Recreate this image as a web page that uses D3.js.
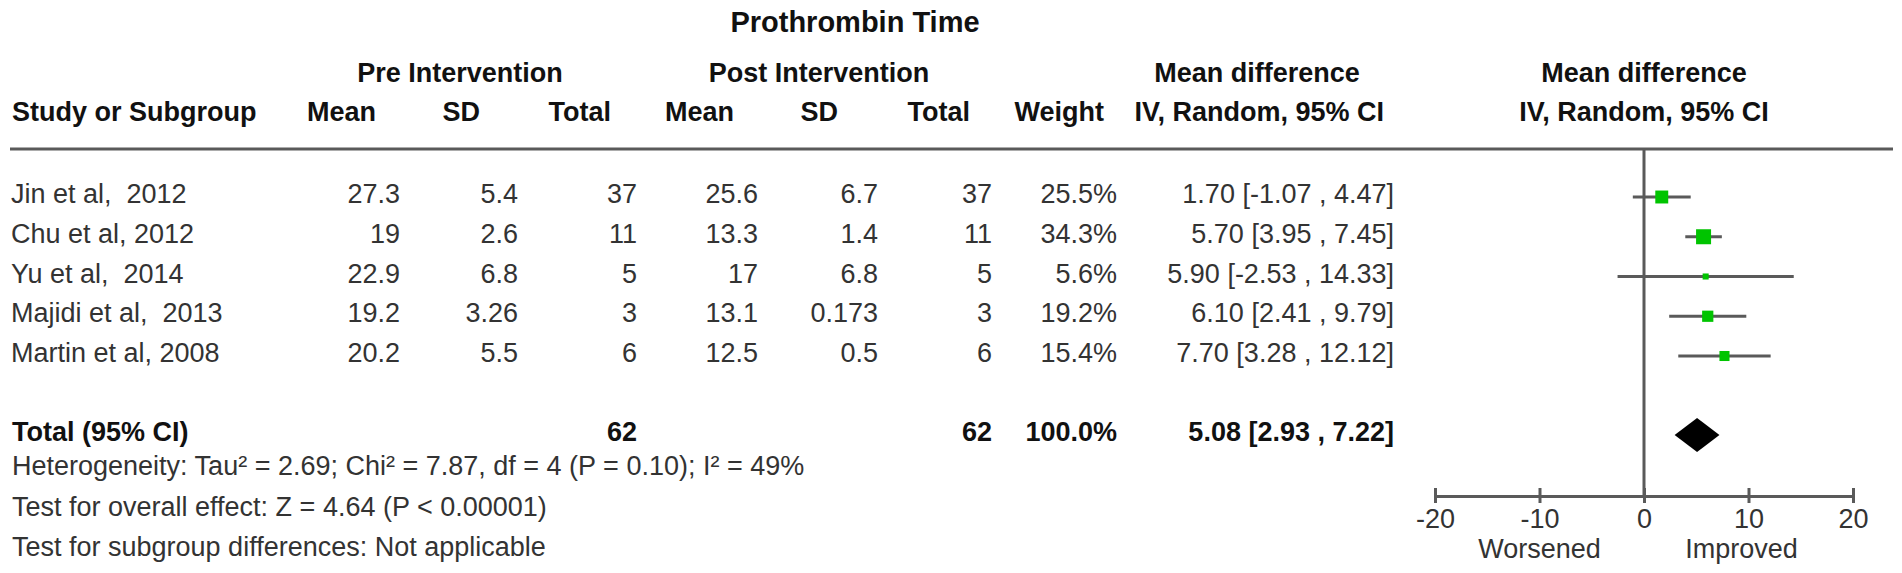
<!DOCTYPE html>
<html>
<head>
<meta charset="utf-8">
<script src="https://cdn.jsdelivr.net/npm/d3@7"></script>
<style>
  body { margin: 0; background: #fff; }
  svg { display: block; }
  text { font-family: "Liberation Sans", Arial, sans-serif; }
</style>
</head>
<body>
<div id="chart"></div>
<script>
const width = 1902, height = 573;

// table data
const studies = ["Jin et al,  2012", "Chu et al, 2012", "Yu et al,  2014", "Majidi et al,  2013", "Martin et al, 2008"]
const preMean = [27.3, 19, 22.9, 19.2, 20.2]
const preSD = [5.4, 2.6, 6.8, 3.26, 5.5]
const preN = [37, 11, 5, 3, 6]
const postMean = [25.6, 13.3, 17, 13.1, 12.5]
const postSD = [6.7, 1.4, 6.8, 0.173, 0.5]
const postN = [37, 11, 5, 3, 6]
const weight = [25.5, 34.3, 5.6, 19.2, 15.4]
const md = [1.70, 5.70, 5.90, 6.10, 7.70]
const ciLow = [-1.07, 3.95, -2.53, 2.41, 3.28]
const ciHigh = [4.47, 7.45, 14.33, 9.79, 12.12]

const totalPreN = 62, totalPostN = 62, totalWeight = 100.0
const totalMd = 5.08, totalLow = 2.93, totalHigh = 7.22

const xTicks = [-20, -10, 0, 10, 20]
const footer = [
  "Heterogeneity: Tau\u00B2 = 2.69; Chi\u00B2 = 7.87, df = 4 (P = 0.10); I\u00B2 = 49%",
  "Test for overall effect: Z = 4.64 (P < 0.00001)",
  "Test for subgroup differences: Not applicable"
]

const fs = 27
const textCol = "#333", boldCol = "#111", lineCol = "#5a5a5a"

const svg = d3.select("#chart")
  .append("svg")
    .attr("width", width)
    .attr("height", height)

// forest scales
const x = d3.scaleLinear().domain([-20, 20]).range([1435, 1853])
const y = d3.scaleLinear().domain([0, studies.length - 1]).range([197, 356])
const size = d3.scaleSqrt().domain([0, 34.3]).range([0, 15])
const totalY = 435, axisY = 496

// column layout: header right edge, value right edge
const cols = [
  {head: "Mean", hx: 376, vx: 400, vals: preMean},
  {head: "SD", hx: 480, vx: 518, vals: preSD},
  {head: "Total", hx: 611, vx: 637, vals: preN},
  {head: "Mean", hx: 734, vx: 758, vals: postMean},
  {head: "SD", hx: 838, vx: 878, vals: postSD},
  {head: "Total", hx: 970, vx: 992, vals: postN},
  {head: "Weight", hx: 1104, vx: 1117, vals: weight.map(w => w.toFixed(1) + "%")},
  {head: "IV, Random, 95% CI", hx: 1384, vx: 1394,
    vals: md.map((m, i) => `${m.toFixed(2)} [${ciLow[i].toFixed(2)} , ${ciHigh[i].toFixed(2)}]`)}
]

// title + group headers
svg.append("text")
  .attr("x", 855).attr("y", 32)
  .attr("text-anchor", "middle")
  .attr("font-size", 29).attr("font-weight", "bold").attr("fill", boldCol)
  .text("Prothrombin Time")

const groups = [
  {t: "Pre Intervention", x: 460},
  {t: "Post Intervention", x: 819},
  {t: "Mean difference", x: 1257},
  {t: "Mean difference", x: x(0)}
]
svg.selectAll("text.group")
  .data(groups)
  .enter()
  .append("text")
    .attr("class", "group")
    .attr("x", d => d.x).attr("y", 82)
    .attr("text-anchor", "middle")
    .attr("font-size", fs).attr("font-weight", "bold").attr("fill", boldCol)
    .text(d => d.t)

// column headers
svg.append("text")
  .attr("x", 12).attr("y", 121)
  .attr("font-size", fs).attr("font-weight", "bold").attr("fill", boldCol)
  .text("Study or Subgroup")

svg.selectAll("text.colhead")
  .data(cols)
  .enter()
  .append("text")
    .attr("class", "colhead")
    .attr("x", d => d.hx).attr("y", 121)
    .attr("text-anchor", "end")
    .attr("font-size", fs).attr("font-weight", "bold").attr("fill", boldCol)
    .text(d => d.head)

svg.append("text")
  .attr("x", x(0)).attr("y", 121)
  .attr("text-anchor", "middle")
  .attr("font-size", fs).attr("font-weight", "bold").attr("fill", boldCol)
  .text("IV, Random, 95% CI")

// separator
svg.append("line")
  .attr("x1", 10).attr("x2", 1893)
  .attr("y1", 149).attr("y2", 149)
  .attr("stroke", lineCol).attr("stroke-width", 3)

// study rows
svg.selectAll("text.study")
  .data(studies)
  .enter()
  .append("text")
    .attr("class", "study")
    .attr("x", 11).attr("y", (d, i) => y(i) + 6)
    .attr("font-size", fs).attr("fill", textCol)
    .style("white-space", "pre")
    .attr("xml:space", "preserve")
    .text(d => d)

cols.forEach(function(c) {
  svg.selectAll(null)
    .data(c.vals)
    .enter()
    .append("text")
      .attr("x", c.vx).attr("y", (d, i) => y(i) + 6)
      .attr("text-anchor", "end")
      .attr("font-size", fs).attr("fill", textCol)
      .text(d => d)
})

// total row
const totalRow = [
  {t: totalPreN, x: 637},
  {t: totalPostN, x: 992},
  {t: totalWeight.toFixed(1) + "%", x: 1117},
  {t: `${totalMd.toFixed(2)} [${totalLow.toFixed(2)} , ${totalHigh.toFixed(2)}]`, x: 1394}
]
svg.append("text")
  .attr("x", 12).attr("y", 441)
  .attr("font-size", fs).attr("font-weight", "bold").attr("fill", boldCol)
  .text("Total (95% CI)")
svg.selectAll("text.total")
  .data(totalRow)
  .enter()
  .append("text")
    .attr("class", "total")
    .attr("x", d => d.x).attr("y", 441)
    .attr("text-anchor", "end")
    .attr("font-size", fs).attr("font-weight", "bold").attr("fill", boldCol)
    .text(d => d.t)

// footer
svg.selectAll("text.footer")
  .data(footer)
  .enter()
  .append("text")
    .attr("class", "footer")
    .attr("x", 12).attr("y", (d, i) => 475 + i * 40.5)
    .attr("font-size", fs).attr("fill", textCol)
    .text(d => d)

// zero line
svg.append("line")
  .attr("x1", x(0)).attr("x2", x(0))
  .attr("y1", 149).attr("y2", axisY)
  .attr("stroke", lineCol).attr("stroke-width", 3)

// CI lines
svg.selectAll("line.ci")
  .data(md)
  .enter()
  .append("line")
    .attr("class", "ci")
    .attr("x1", (d, i) => x(ciLow[i]))
    .attr("x2", (d, i) => x(ciHigh[i]))
    .attr("y1", (d, i) => y(i)).attr("y2", (d, i) => y(i))
    .attr("stroke", lineCol).attr("stroke-width", 3)

// weight squares
svg.selectAll("rect.pt")
  .data(md)
  .enter()
  .append("rect")
    .attr("class", "pt")
    .attr("x", (d, i) => x(d) - size(weight[i]) / 2)
    .attr("y", (d, i) => y(i) - size(weight[i]) / 2)
    .attr("width", (d, i) => size(weight[i]))
    .attr("height", (d, i) => size(weight[i]))
    .attr("fill", "#00c400")

// pooled diamond
svg.append("path")
  .attr("d", `M${x(totalLow)},${totalY} L${x(totalMd)},${totalY - 17} L${x(totalHigh)},${totalY} L${x(totalMd)},${totalY + 17} Z`)
  .attr("fill", "#000")

// axis
const axis = svg.append("g")
  .attr("transform", `translate(0, ${axisY})`)
  .call(d3.axisBottom(x).tickValues(xTicks).tickSize(0).tickPadding(0).tickFormat(d3.format("d")))
axis.select(".domain").attr("stroke", lineCol).attr("stroke-width", 3)
axis.selectAll(".tick line")
  .attr("y1", -8).attr("y2", 7)
  .attr("stroke", lineCol).attr("stroke-width", 3)
axis.selectAll(".tick text")
  .attr("y", 32).attr("dy", 0)
  .attr("font-family", "Liberation Sans, Arial, sans-serif")
  .attr("font-size", fs).attr("fill", textCol)
  .text(d => d < 0 ? "-" + Math.abs(d) : d)

svg.append("text")
  .attr("x", x(-10)).attr("y", 558)
  .attr("text-anchor", "middle")
  .attr("font-size", fs).attr("fill", textCol)
  .text("Worsened")
svg.append("text")
  .attr("x", x(10) - 7).attr("y", 558)
  .attr("text-anchor", "middle")
  .attr("font-size", fs).attr("fill", textCol)
  .text("Improved")
</script>
</body>
</html>
